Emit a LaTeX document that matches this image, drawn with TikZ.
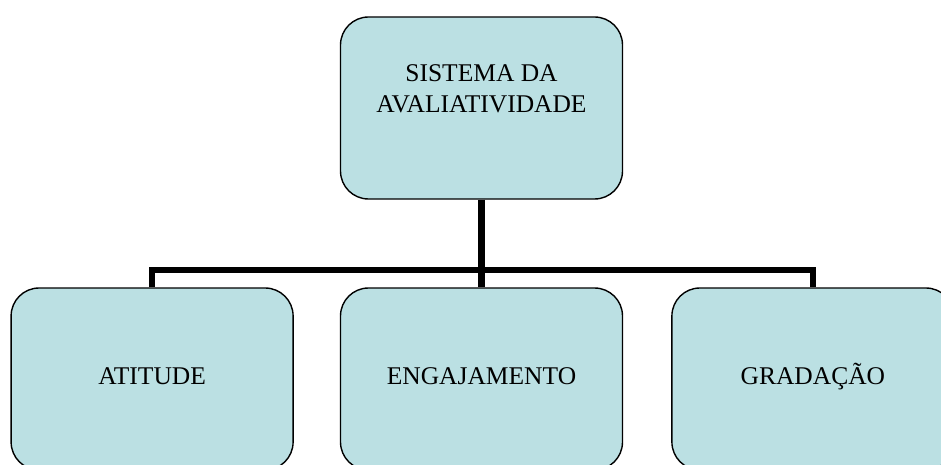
\documentclass[tikz,border=0pt]{standalone}
\usepackage{fontspec}
\setmainfont{Liberation Serif}
\usetikzlibrary{positioning}
\definecolor{boxfill}{RGB}{187,224,227}
\tikzset{
  caixa/.style={draw=black,line width=1.4pt,fill=boxfill,rounded corners=28pt,
    minimum width=282pt,minimum height=182pt,inner sep=0pt,
    font=\fontsize{25.5}{31}\selectfont,text height=17pt,text depth=6pt},
  barra/.style={line width=6.5pt,color=black}
}
\begin{document}
\begin{tikzpicture}[x=1pt,y=1pt,line join=miter]
\useasboundingbox (0,0) rectangle (941,-465);
\clip (0,0) rectangle (941,-465);
% caixas
\node[caixa] (sist) at (481.5,-108) {};
\node[align=center,anchor=north,font=\fontsize{25.5}{31}\selectfont] (sisttxt) at ([yshift=-45pt]sist.north) {SISTEMA DA\\AVALIATIVIDADE};
\node[caixa] (eng) at (481.5,-379) {ENGAJAMENTO};
\node[caixa,left=46pt of eng] (atit) {ATITUDE};
\node[caixa,right=48pt of eng] (grad) {GRADAÇÃO};
% ligacoes
\coordinate (hub) at (481.5,-270);
\draw[barra] (sist.south) -- (eng.north);
\draw[barra] (atit.north) |- (hub) -| (grad.north);
\end{tikzpicture}
\end{document}
